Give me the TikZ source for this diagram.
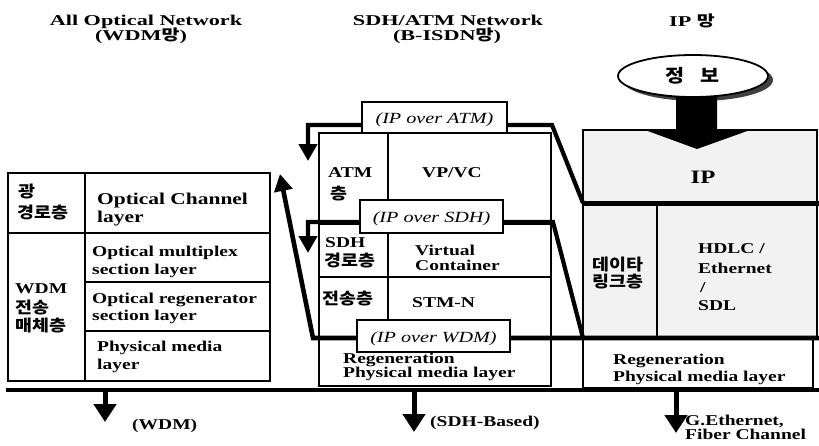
\documentclass[tikz,border=0pt]{standalone}
\usepackage{fontspec}
\setmainfont{Liberation Serif}[FakeStretch=1.3]
\newfontfamily\widefont{Liberation Serif}[FakeStretch=1.48]
\newfontfamily\kr{Noto Sans CJK KR}[FakeStretch=1.15]
\newfontfamily\krwide{Noto Sans CJK KR}[FakeStretch=1.3]
\usetikzlibrary{arrows.meta,shapes.geometric}

\tikzset{
  boxln/.style={line width=2.4pt},
  divln/.style={line width=1.6pt},
  conn/.style={line width=4.2pt, line join=miter},
  tip/.style={-{Triangle[length=17pt,width=18pt]}},
  downtip/.style={line width=5pt, -{Triangle[length=18pt,width=22pt]}},
  txt/.style={inner sep=0pt, anchor=base west, font=\fontsize{15}{18}\selectfont\bfseries},
  bigtxt/.style={txt, font=\fontsize{16.5}{18}\selectfont\bfseries},
  ctxt/.style={txt, anchor=base},
  ktxt/.style={inner sep=0pt, anchor=base west, font=\fontsize{16}{18}\selectfont\kr\bfseries},
  ttl/.style={inner sep=0pt, anchor=base, font=\fontsize{15}{16}\selectfont\widefont\bfseries},
  tag/.style={draw, line width=2.6pt, fill=white, inner sep=0pt,
    text height=12pt, text depth=0pt,
    font=\fontsize{15.5}{18}\selectfont\itshape},
}

\begin{document}
\begin{tikzpicture}[x=1pt, y=-1pt]
\useasboundingbox (0,0) rectangle (819,445);

% ---------- titles ----------
\node[ttl] (t1a) at (146,25) {All Optical Network};
\node[ttl] (t1b) at (141,40) {(WDM{\krwide\bfseries 망})};
\node[ttl] (t2a) at (448,25) {SDH/ATM Network};
\node[ttl] (t2b) at (447,40) {(B-ISDN{\krwide\bfseries 망})};
\node[ttl] (t3) at (692,26) {IP {\krwide\bfseries 망}};

% ---------- WDM layer stack ----------
\draw[boxln] (8,173) rectangle (270,381);
\draw[divln] (85,173) -- (85,381);
\draw[boxln] (8,233) -- (270,233);
\draw[divln] (85,282) -- (270,282);
\draw[divln] (85,331) -- (270,331);

\node[ktxt] (w1) at (18,197) {광};
\node[ktxt] (w2) at (17,218) {경로층};
\node[bigtxt] (w3) at (97,204) {Optical Channel};
\node[bigtxt] (w4) at (97,222) {layer};
\node[txt] (w5) at (15,293) {WDM};
\node[ktxt] (w6) at (15,313) {전송};
\node[ktxt] (w7) at (15,331) {매체층};
\node[txt] (w8) at (92,256) {Optical multiplex};
\node[txt] (w9) at (92,274) {section layer};
\node[txt] (w10) at (92,303) {Optical regenerator};
\node[txt] (w11) at (92,320) {section layer};
\node[txt] (w12) at (97,351) {Physical media};
\node[txt] (w13) at (97,369) {layer};

% ---------- SDH/ATM layer stack ----------
\draw[boxln] (319,133) rectangle (551,386);
\draw[divln] (388,133) -- (388,337);
\draw[divln] (319,224) -- (551,224);
\draw[divln] (319,277) -- (551,277);

\node[txt] (s1) at (328,177) {ATM};
\node[ktxt] (s2) at (330,199) {층};
\node[ctxt] (s3) at (452,177) {VP/VC};
\node[txt] (s4) at (325,247) {SDH};
\node[ktxt] (s5) at (324,266) {경로층};
\node[txt] (s6) at (415,255) {Virtual};
\node[txt] (s7) at (415,270) {Container};
\node[ktxt] (s8) at (322,304) {전송층};
\node[txt] (s9) at (412,307) {STM-N};
\node[txt] (s10) at (343,363) {Regeneration};
\node[txt] (s11) at (343,377) {Physical media layer};

% ---------- IP layer stack ----------
\fill[black!5] (583,130) rectangle (817,338);
\draw[boxln] (583,130) rectangle (817,338);
\draw[divln] (657,203) -- (657,338);
\draw[boxln] (583,338) rectangle (813,388);
\draw[line width=5pt] (583,203) -- (819,203);

\node[anchor=base, inner sep=0pt, font=\fontsize{19}{20}\selectfont\bfseries] (i1) at (703,183) {IP};
\node[ktxt] (i2) at (592,270) {데이타};
\node[ktxt] (i3) at (592,287) {링크층};
\node[txt] (i4) at (698,253) {HDLC /};
\node[txt] (i5) at (698,273) {Ethernet};
\node[txt] (i6) at (700,292) {/};
\node[txt] (i7) at (698,310) {SDL};
\node[txt] (i8) at (613,364) {Regeneration};
\node[txt] (i9) at (613,381) {Physical media layer};

% information bubble and its thick arrow into the IP layer
\fill[black!75] (698,80) ellipse [x radius=75pt, y radius=21pt];
\node[draw, ellipse, line width=1.8pt, fill=white, minimum width=150pt, minimum height=42pt,
      inner sep=0pt, font=\fontsize{18}{20}\selectfont\kr\bfseries] (info) at (693,76) {정\hspace{16pt}보};
\fill (676,97) -- (717,97) -- (717,130) -- (750,130) -- (697,149) -- (645,130) -- (676,130) -- cycle;

% ---------- mapping connectors ----------
\coordinate (atmS) at (583,203);
\coordinate (atmK) at (552,125);
\coordinate (atmL) at (308,125);
\coordinate (atmE) at (308,161);
\draw[conn, tip] (atmS) -- (atmK) -- (atmL) -- (atmE);

\coordinate (sdhS) at (583,338);
\coordinate (sdhK) at (553,222);
\coordinate (sdhL) at (308,222);
\coordinate (sdhE) at (308,253);
\draw[conn, tip] (sdhS) -- (sdhK) -- (sdhL) -- (sdhE);

\coordinate (wdmS) at (819,338);
\coordinate (wdmK) at (313,338);
\coordinate (wdmE) at (280,174);
\draw[conn, line width=4.6pt, tip] (wdmS) -- (wdmK) -- (wdmE);

\node[tag, minimum width=145pt, minimum height=31pt] (atmtag) at (434.5,117.5) {(IP over ATM)};
\node[tag, minimum width=143pt, minimum height=33pt] (sdhtag) at (431.5,216.5) {(IP over SDH)};
\node[tag, minimum width=153pt, minimum height=32pt] (wdmtag) at (433.5,336) {(IP over WDM)};

% ---------- physical ground line and transport arrows ----------
\coordinate (gL) at (6,389.5);
\coordinate (gR) at (819,389.5);
\draw[line width=4pt] (gL) -- (gR);

\coordinate (d1) at (105,391);  \coordinate (d1e) at (105,422);
\coordinate (d2) at (414,391);  \coordinate (d2e) at (414,432);
\coordinate (d3) at (676,391);  \coordinate (d3e) at (676,433);
\draw[downtip] (d1) -- (d1e);
\draw[downtip] (d2) -- (d2e);
\draw[downtip] (d3) -- (d3e);

\node[txt] (b1) at (132,429) {(WDM)};
\node[txt] (b2) at (430,426) {(SDH-Based)};
\node[txt] (b3) at (685,425) {G.Ethernet,};
\node[txt] (b4) at (685,439) {Fiber Channel};
\end{tikzpicture}
\end{document}
